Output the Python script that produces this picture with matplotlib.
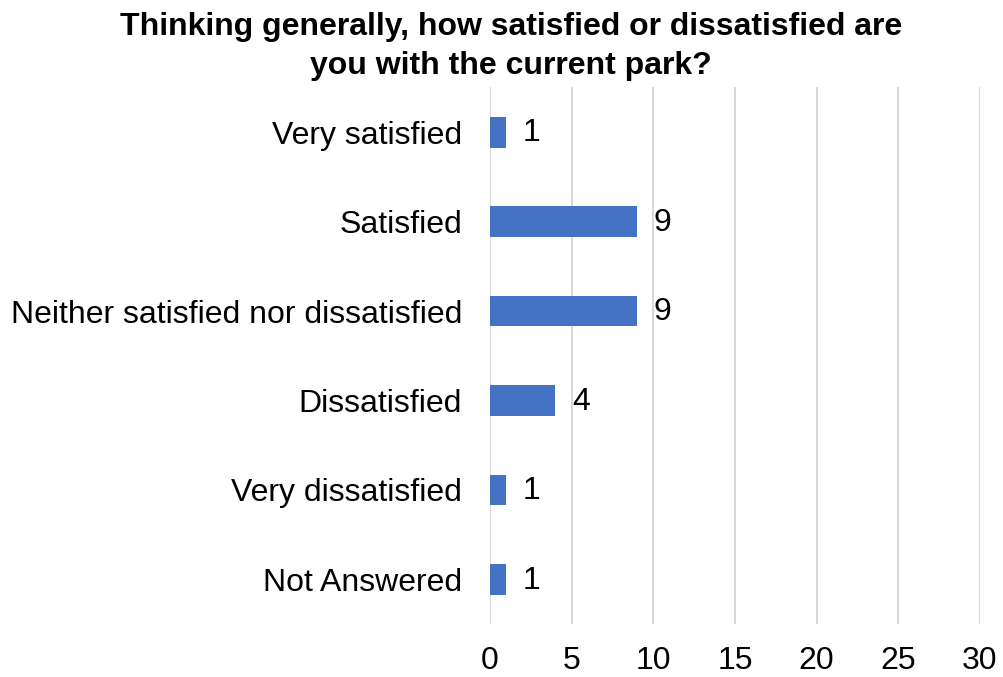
import matplotlib.pyplot as plt

categories = ['Very satisfied', 'Satisfied', 'Neither satisfied nor dissatisfied',
              'Dissatisfied', 'Very dissatisfied', 'Not Answered']
counts = [1, 9, 9, 4, 1, 1]
xticks = [0, 5, 10, 15, 20, 25, 30]
title = 'Thinking generally, how satisfied or dissatisfied are\nyou with the current park?'

plt.rcParams['font.family'] = ['Liberation Sans', 'DejaVu Sans']

fig = plt.figure(figsize=(10.04, 6.77), dpi=100)
ax = fig.add_axes([0.488, 0.078, 0.488, 0.793])

pos = list(range(len(categories)))
ax.barh(pos, counts, height=0.345, color='#4472C4', zorder=3)
for p, v in zip(pos, counts):
    ax.annotate(str(v), (v, p), xytext=(12, -1), textcoords='offset points',
                va='center', ha='left', fontsize=23, color='#000000')

ax.set_xlim(0, 30)
ax.set_ylim(len(categories) - 0.5, -0.5)
ax.set_xticks(xticks)
ax.set_yticks(pos)
ax.set_yticklabels(categories)
ax.tick_params(axis='both', length=0, labelsize=23, colors='#000000')
ax.tick_params(axis='y', pad=20)
ax.tick_params(axis='x', pad=16)
ax.grid(axis='x', color='#d9d9d9', linewidth=1.5, zorder=0)
for s in ax.spines.values():
    s.set_visible(False)

fig.text(0.509, 0.982, title, ha='center', va='top', fontsize=23,
         fontweight='bold', linespacing=1.4)

fig.savefig('out.png', dpi=100)
